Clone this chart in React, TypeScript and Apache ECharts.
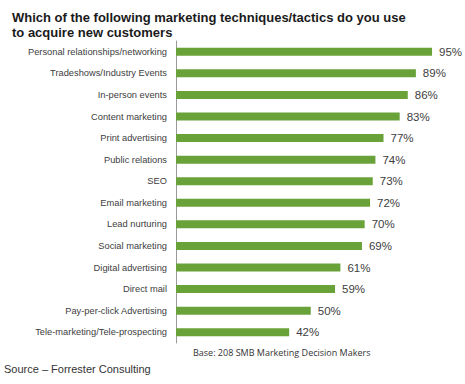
import React, { useEffect, useRef } from "react";
import * as echarts from "echarts";

const categories = [
  "Personal relationships/networking",
  "Tradeshows/Industry Events",
  "In-person events",
  "Content marketing",
  "Print advertising",
  "Public relations",
  "SEO",
  "Email marketing",
  "Lead nurturing",
  "Social marketing",
  "Digital advertising",
  "Direct mail",
  "Pay-per-click Advertising",
  "Tele-marketing/Tele-prospecting",
];
const values = [95, 89, 86, 83, 77, 74, 73, 72, 70, 69, 61, 59, 50, 42];

const titleLines = [
  "Which of the following marketing techniques/tactics do you use",
  "to acquire new customers",
];
const baseNote = "Base: 208 SMB Marketing Decision Makers";
const sourceNote = "Source \u2013 Forrester Consulting";

export default function App() {
  const ref = useRef<HTMLDivElement>(null);
  useEffect(() => {
    if (!ref.current) return;
    const chart = echarts.init(ref.current, null, { renderer: "svg" });
    chart.setOption({
      animation: false,
      backgroundColor: "#ffffff",
      graphic: [
        {
          type: "text",
          left: 12,
          top: 10,
          style: {
            text: titleLines.join("\n"),
            font: "bold 13px 'Liberation Sans', Arial, sans-serif",
            lineHeight: 15,
            fill: "#1a1a1a",
          },
        },
        {
          type: "text",
          left: 193,
          top: 348,
          style: {
            text: baseNote,
            font: "9px 'Open Sans', 'Liberation Sans', sans-serif",
            fill: "#333333",
          },
        },
        {
          type: "text",
          left: 4,
          top: 363,
          style: {
            text: sourceNote,
            font: "11px 'Liberation Sans', Arial, sans-serif",
            fill: "#333333",
          },
        },
      ],
      grid: { left: 176, top: 41, width: 269.5, height: 302, containLabel: false },
      xAxis: {
        type: "value",
        min: 0,
        max: 100,
        show: false,
      },
      yAxis: {
        type: "category",
        data: categories,
        inverse: true,
        axisLine: { show: true, lineStyle: { color: "#9a9a9a", width: 1 } },
        axisTick: { show: false },
        axisLabel: {
          color: "#404040",
          fontSize: 9.3,
          fontFamily: "'Liberation Sans', Arial, sans-serif",
          margin: 9,
        },
      },
      series: [
        {
          type: "bar",
          data: values,
          barWidth: 8,
          itemStyle: { color: "#6aa23a" },
          label: {
            show: true,
            position: "right",
            distance: 7,
            formatter: "{c}%",
            color: "#404040",
            fontSize: 11.5,
            fontFamily: "'Liberation Sans', Arial, sans-serif",
          },
        },
      ],
    });
    return () => chart.dispose();
  }, []);
  return <div ref={ref} style={{ width: 465, height: 384, position: "absolute", left: 0, top: 0 }} />;
}
